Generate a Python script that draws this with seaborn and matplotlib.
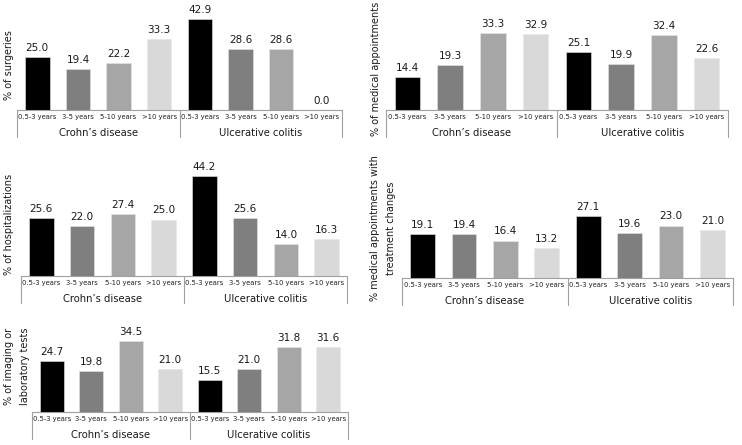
import matplotlib
matplotlib.use("Agg")
import matplotlib.pyplot as plt
import seaborn as sns
import pandas as pd

sns.set_theme(style="white")
plt.rcParams['font.family'] = ['DejaVu Sans']

durations = ["0.5-3 years", "3-5 years", "5-10 years", ">10 years"]
groups = ["Crohn\u2019s disease", "Ulcerative colitis"]

surgeries_cd = [25.0, 19.4, 22.2, 33.3]
surgeries_uc = [42.9, 28.6, 28.6, 0.0]
appointments_cd = [14.4, 19.3, 33.3, 32.9]
appointments_uc = [25.1, 19.9, 32.4, 22.6]
hospital_cd = [25.6, 22.0, 27.4, 25.0]
hospital_uc = [44.2, 25.6, 14.0, 16.3]
treatment_cd = [19.1, 19.4, 16.4, 13.2]
treatment_uc = [27.1, 19.6, 23.0, 21.0]
imaging_cd = [24.7, 19.8, 34.5, 21.0]
imaging_uc = [15.5, 21.0, 31.8, 31.6]

ylabels = ["% of surgeries", "% of medical appointments", "% of hospitalizations",
           "% medical appointments with\ntreatment changes", "% of imaging or\nlaboratory tests"]

colors = ["#000000", "#7f7f7f", "#a6a6a6", "#d9d9d9"]
line_col = "#a0a0a0"

W, Hf = 742, 445
fig = plt.figure(figsize=(W / 100, Hf / 100), dpi=100)

# (left px, right px, baseline px, px per unit, ylabel x, ylabel y)
panels = [
    (17, 342, 110, 2.12, 9, 65),
    (386, 728, 110, 2.31, 376, 69),
    (21, 347, 276, 2.26, 9, 224),
    (402, 733, 278, 2.28, 383, 228),
    (32, 348, 412, 2.05, 17, 366),
]
datasets = [
    (surgeries_cd, surgeries_uc),
    (appointments_cd, appointments_uc),
    (hospital_cd, hospital_uc),
    (treatment_cd, treatment_uc),
    (imaging_cd, imaging_uc),
]

H = 100
for (L, R, base, scale, lx, ly), (cd, uc), ylab in zip(panels, datasets, ylabels):
    ax = fig.add_axes([L / W, (Hf - base) / Hf, (R - L) / W, H / Hf])
    slots = [f"{g}|{d}" for g in groups for d in durations]
    df = pd.DataFrame({
        "slot": slots,
        "duration": durations * 2,
        "value": list(cd) + list(uc),
    })
    df["slot"] = pd.Categorical(df["slot"], categories=slots, ordered=True)
    sns.barplot(data=df, x="slot", y="value", hue="duration", hue_order=durations,
                palette=dict(zip(durations, colors)), dodge=False, width=0.6,
                legend=False, ax=ax, saturation=1, edgecolor="#e6e6e6", linewidth=0.4)
    for c in ax.containers:
        ax.bar_label(c, fmt="%.1f", padding=3, fontsize=7.5, color="#1a1a1a")
    ax.set_xlim(-0.5, 7.5)
    ax.set_ylim(0, H / scale)
    for s in ["left", "right", "top"]:
        ax.spines[s].set_visible(False)
    ax.spines["bottom"].set_color(line_col)
    ax.spines["bottom"].set_linewidth(0.8)
    ax.set_yticks([])
    ax.set_xticks(range(8))
    ax.set_xticklabels(durations * 2, fontsize=4.9, color="#222222")
    ax.tick_params(axis="x", length=0, pad=3)
    ax.set_xlabel("")
    ax.set_ylabel("")
    drop = 27 / H
    tr = ax.get_xaxis_transform()
    for xv in [-0.5, 3.5, 7.5]:
        ax.plot([xv, xv], [0, -drop], transform=tr, color=line_col, lw=0.8, clip_on=False)
    for gi, g in enumerate(groups):
        ax.text(1.5 + 4 * gi, -23 / H, g, transform=tr, ha="center", va="center",
                fontsize=7.2, color="#1a1a1a")
    fig.text(lx / W, 1 - ly / Hf, ylab, rotation=90, ha="center", va="center",
             fontsize=7.0, color="#1a1a1a", linespacing=1.8, multialignment="center")

fig.savefig("out.png", dpi=100, facecolor="white")
